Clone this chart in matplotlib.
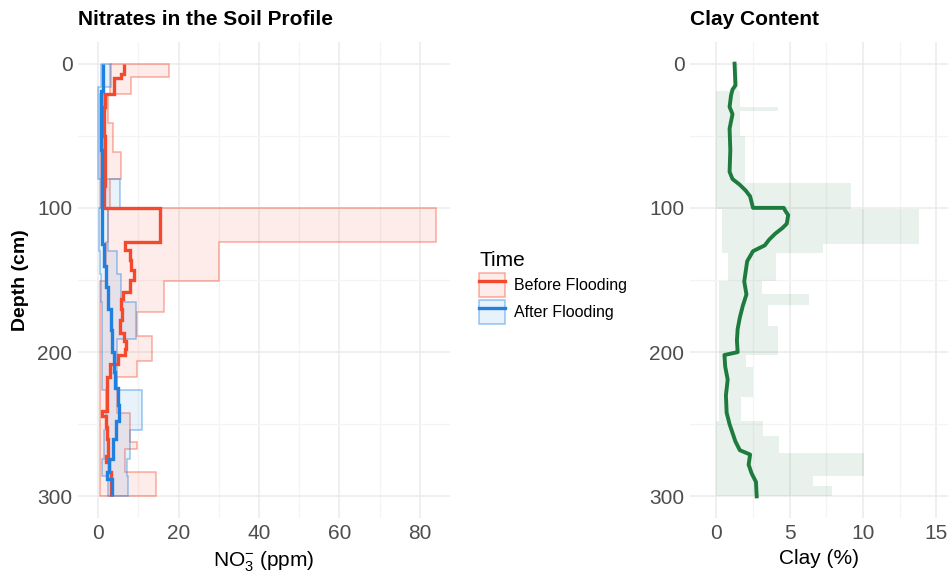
import numpy as np
import matplotlib
matplotlib.use("Agg")
import matplotlib.pyplot as plt
from matplotlib.patches import Patch
from matplotlib.lines import Line2D

plt.rcParams['font.family'] = ['Liberation Sans', 'DejaVu Sans']
plt.rcParams['mathtext.fontset'] = 'custom'
plt.rcParams['mathtext.rm'] = 'Liberation Sans'
plt.rcParams['mathtext.it'] = 'Liberation Sans:italic'

# nitrate range before flooding (layer edges in cm, min / max in ppm)
before_edges = [0, 9, 21, 41, 61, 80, 100, 124, 151, 172, 189, 206, 217, 242, 262, 267, 283, 300]
before_low = [3.0, 3.0, 0.5, 0.5, 0.5, 0.5, 2.5, 2.0, 0.4, 0.4, 0.4, 0.4, 0.4, 0.4, 0.4, 0.4, 0.4]
before_high = [17.7, 8.2, 2.5, 3.8, 5.8, 3.0, 84.0, 30.0, 16.5, 9.7, 13.3, 9.7, 4.7, 7.9, 9.6, 6.7, 14.3]

# nitrate range after flooding
after_edges = [0, 16, 80, 100, 130, 146, 165, 191, 226, 254, 274, 286, 300]
after_low = [0.8, 0.0, 0.8, 0.3, 0.5, 0.8, 1.0, 1.0, 2.0, 1.5, 1.0, 2.5]
after_high = [3.2, 1.5, 5.4, 2.5, 4.6, 5.8, 9.4, 4.7, 11.0, 8.0, 7.1, 7.5]

# mean nitrate profiles
before_mean_edges = [0, 7, 10, 21, 30, 50, 70, 85, 100, 124, 129, 136, 143, 150, 158, 163, 170,
                     178, 187, 192, 198, 202, 208, 217, 228, 241, 244, 252, 260, 272, 276, 283, 300]
before_mean = [6.5, 5.8, 4.0, 1.7, 1.4, 1.6, 1.8, 1.5, 15.4, 6.7, 7.9, 8.3, 9.0, 7.9, 6.3, 5.6,
               6.0, 5.5, 6.5, 7.0, 6.8, 5.0, 3.0, 2.1, 2.3, 1.0, 2.0, 2.1, 2.5, 2.0, 2.6, 3.3]
after_mean_edges = [0, 19, 60, 100, 125, 140, 155, 170, 185, 200, 214, 225, 237, 248, 260, 274, 283, 288, 300]
after_mean = [1.25, 0.6, 0.9, 1.0, 1.5, 1.9, 2.4, 3.1, 3.5, 3.9, 4.3, 5.0, 5.2, 4.4, 3.6, 2.8, 2.3, 3.5]

# clay range (%)
clay_edges = [0, 19, 30, 33, 50, 83, 101, 125, 131, 151, 160, 167, 182, 202, 210, 231, 248, 258, 270, 286, 293, 300]
clay_low = [1.1, 0, 0, 0, 0, 0, 0.4, 0.4, 0.8, 0.2, 0.2, 0.2, 0.2, 0.2, 0.2, 0.2, 0, 0, 0, 0, 0]
clay_high = [1.5, 1.6, 4.2, 1.6, 1.95, 9.2, 13.8, 7.3, 4.1, 3.1, 6.3, 3.5, 4.2, 2.0, 2.5, 1.7, 3.2, 4.3, 10.1, 6.6, 7.9]

# mean clay profile
clay_depth = [0, 15, 18, 22, 30, 35, 45, 60, 75, 80, 84, 88, 92, 96, 100, 100, 102, 105, 111, 114, 118,
              122, 126, 130, 137, 151, 160, 168, 176, 184, 192, 200, 202, 210, 219, 230, 242, 250,
              256, 262, 268, 271, 278, 284, 290, 300]
clay_mean = [1.24, 1.3, 1.1, 1.0, 0.9, 1.1, 0.9, 0.95, 0.9, 1.1, 1.6, 2.0, 2.3, 2.4, 2.5, 4.6, 4.7, 4.9,
             4.8, 4.5, 4.0, 3.6, 3.3, 2.5, 2.1, 1.9, 2.05, 1.8, 1.6, 1.45, 1.4, 1.45, 0.55, 0.6, 0.77,
             0.65, 0.7, 0.9, 1.1, 1.3, 1.6, 2.3, 2.2, 2.4, 2.7, 2.75]

red = '#F4492C'
blue = '#1F80E0'
green = '#1E7B3E'
grid_major = '#EBEBEB'
grid_minor = '#F4F4F4'
tick_col = '#4D4D4D'

W, H = 951, 575
fig = plt.figure(figsize=(W / 100, H / 100), dpi=100)
ax1 = fig.add_axes([78 / W, 1 - 518 / H, (450 - 78) / W, (518 - 42) / H])
ax2 = fig.add_axes([690 / W, 1 - 518 / H, (948 - 690) / W, (518 - 42) / H])


def style(ax, xticks, xminor):
    ax.set_ylim(315, -15)
    ax.set_xticks(xticks)
    ax.set_xticks(xminor, minor=True)
    ax.set_yticks([0, 100, 200, 300])
    ax.set_yticks([50, 150, 250], minor=True)
    ax.grid(True, which='major', color=grid_major, lw=1.1)
    ax.grid(True, which='minor', color=grid_minor, lw=0.9)
    ax.set_axisbelow(True)
    for s in ax.spines.values():
        s.set_visible(False)
    ax.tick_params(which='both', length=0, labelsize=15, labelcolor=tick_col, pad=4)


# nitrate panel
ax1.stairs(before_high, before_edges, baseline=before_low, fill=True, orientation='horizontal',
           color=red, alpha=0.1, lw=0)
ax1.stairs(before_high, before_edges, baseline=before_low, fill=False, orientation='horizontal',
           color=red, alpha=0.45, lw=1.1)
ax1.stairs(after_high, after_edges, baseline=after_low, fill=True, orientation='horizontal',
           color=blue, alpha=0.1, lw=0)
ax1.stairs(after_high, after_edges, baseline=after_low, fill=False, orientation='horizontal',
           color=blue, alpha=0.45, lw=1.1)
ax1.stairs(before_mean, before_mean_edges, baseline=None, orientation='horizontal', color=red, lw=2.4)
ax1.stairs(after_mean, after_mean_edges, baseline=None, orientation='horizontal', color=blue, lw=2.4)
ax1.set_xlim(-5, 87.5)
style(ax1, [0, 20, 40, 60, 80], [10, 30, 50, 70])
ax1.set_xlabel('NO$_3^{-}$ (ppm)', fontsize=15, labelpad=5)
ax1.set_ylabel('Depth (cm)', fontsize=14, fontweight='bold', labelpad=6)
ax1.set_title('Nitrates in the Soil Profile', fontsize=15, fontweight='bold', loc='left', pad=12)

# clay panel
ax2.stairs(clay_high, clay_edges, baseline=clay_low, fill=True, orientation='horizontal',
           color=green, alpha=0.1, lw=0)
ax2.plot(clay_mean, clay_depth, color=green, lw=2.8, solid_joinstyle='round')
ax2.set_xlim(-1.8, 15.8)
style(ax2, [0, 5, 10, 15], [2.5, 7.5, 12.5])
ax2.set_xlabel('Clay (%)', fontsize=15, labelpad=5)
ax2.set_title('Clay Content', fontsize=15, fontweight='bold', loc='left', pad=12)

# legend
handles = [
    (Patch(facecolor=red, alpha=0.1, lw=0), Patch(facecolor='none', edgecolor=red, alpha=0.45, lw=1.1),
     Line2D([], [], color=red, lw=2.4)),
    (Patch(facecolor=blue, alpha=0.1, lw=0), Patch(facecolor='none', edgecolor=blue, alpha=0.45, lw=1.1),
     Line2D([], [], color=blue, lw=2.4)),
]
leg = fig.legend(handles, ['Before Flooding', 'After Flooding'], title='Time',
                 loc='upper left', bbox_to_anchor=(468 / W, 1 - 240 / H), frameon=False,
                 fontsize=11.5, title_fontsize=15, handlelength=1.6, handleheight=2.0,
                 labelspacing=0.15, handletextpad=0.6, borderpad=0.2)
leg._legend_box.align = 'left'

fig.savefig('out.png', dpi=100)
